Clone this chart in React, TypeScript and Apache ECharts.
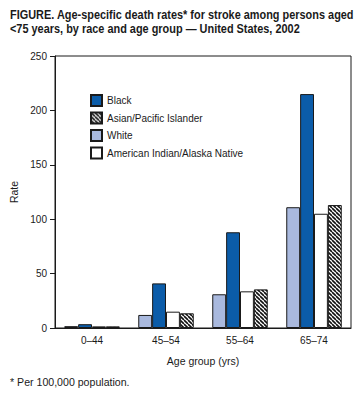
import React, { useEffect, useRef } from "react";
import * as echarts from "echarts";

const categories = ["0–44", "45–54", "55–64", "65–74"];
const white = [1.7, 12, 31, 111];
const black = [3.5, 41, 88, 215];
const aian = [1.5, 15, 33.7, 105];
const api = [1.5, 13.5, 35.5, 113];
const yTicks = [0, 50, 100, 150, 200, 250];

const FONT = "Liberation Sans, Arial, Helvetica, sans-serif";

function makeHatch(): HTMLCanvasElement {
  const c = document.createElement("canvas");
  c.width = 4;
  c.height = 4;
  const ctx = c.getContext("2d")!;
  ctx.fillStyle = "#ffffff";
  ctx.fillRect(0, 0, 4, 4);
  ctx.strokeStyle = "#111111";
  ctx.lineWidth = 1.6;
  for (const off of [-4, 0, 4]) {
    ctx.beginPath();
    ctx.moveTo(off, 0);
    ctx.lineTo(off + 4, 4);
    ctx.stroke();
  }
  return c;
}

export default function App() {
  const ref = useRef<HTMLDivElement>(null);
  useEffect(() => {
    if (!ref.current) return;
    const chart = echarts.init(ref.current, null, { renderer: "svg" });
    const hatch = makeHatch();
    const border = { borderColor: "#1a1a1a", borderWidth: 1 };
    const mk = (name: string, data: number[], color: any) => ({
      name,
      type: "bar",
      data,
      barGap: "0%",
      barCategoryGap: "25%",
      itemStyle: { color, ...border },
    });
    chart.setOption({
      animation: false,
      graphic: [
        {
          type: "text",
          x: 10,
          y: 8,
          scaleX: 0.91,
          style: {
            text: "FIGURE. Age-specific death rates* for stroke among persons aged\n<75 years, by race and age group — United States, 2002",
            font: `bold 12px ${FONT}`,
            fill: "#1a1a1a",
            lineHeight: 14,
          },
        },
        {
          type: "text",
          left: 10,
          top: 376,
          style: {
            text: "* Per 100,000 population.",
            font: `10.6px ${FONT}`,
            fill: "#1a1a1a",
          },
        },
      ],
      grid: {
        left: 50,
        right: 13,
        top: 56,
        bottom: 76,
        show: true,
        borderColor: "#1a1a1a",
        borderWidth: 1,
      },
      legend: {
        orient: "vertical",
        left: 90,
        top: 94,
        padding: 0,
        itemWidth: 11,
        itemHeight: 11,
        itemGap: 4.5,
        icon: "rect",
        data: ["Black", "Asian/Pacific Islander", "White", "American Indian/Alaska Native"],
        textStyle: { fontFamily: FONT, fontSize: 10, color: "#1a1a1a" },
      },
      xAxis: {
        type: "category",
        data: categories,
        name: "Age group (yrs)",
        nameLocation: "middle",
        nameGap: 27,
        nameTextStyle: { fontFamily: FONT, fontSize: 10.5, color: "#1a1a1a" },
        axisLine: { lineStyle: { color: "#1a1a1a", width: 1 } },
        axisTick: { alignWithLabel: true, length: 5, lineStyle: { color: "#1a1a1a" } },
        axisLabel: { fontFamily: FONT, fontSize: 10, color: "#1a1a1a", margin: 7 },
      },
      yAxis: {
        type: "value",
        min: yTicks[0],
        max: yTicks[yTicks.length - 1],
        interval: 50,
        name: "Rate",
        nameLocation: "middle",
        nameGap: 36,
        nameTextStyle: { fontFamily: FONT, fontSize: 10.5, color: "#1a1a1a" },
        splitLine: { show: false },
        axisLine: { show: true, lineStyle: { color: "#1a1a1a", width: 1 } },
        axisTick: { show: true, length: 5, lineStyle: { color: "#1a1a1a" } },
        axisLabel: { fontFamily: FONT, fontSize: 10, color: "#1a1a1a", margin: 8 },
      },
      series: [
        mk("White", white, "#a9b9de"),
        mk("Black", black, "#0b5ca9"),
        mk("American Indian/Alaska Native", aian, "#ffffff"),
        mk("Asian/Pacific Islander", api, { image: hatch, repeat: "repeat" }),
      ],
    });
    return () => chart.dispose();
  }, []);
  return <div ref={ref} style={{ width: 364, height: 404, position: "absolute", left: 0, top: 0 }} />;
}
